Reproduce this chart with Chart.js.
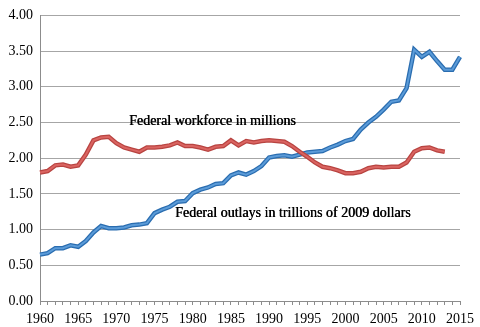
<!DOCTYPE html>
<html>
<head>
<meta charset="utf-8">
<script src="https://cdn.jsdelivr.net/npm/chart.js@4.4.1/dist/chart.umd.min.js"></script>
<style>
  html, body { margin: 0; padding: 0; background: #fff; }
  #wrap { width: 480px; height: 327px; }
</style>
</head>
<body>
<div id="wrap"><canvas id="chart"></canvas></div>
<script>
const years = [];
for (let y = 1960; y <= 2015; y++) years.push(String(y));

// Federal outlays, trillions of 2009 dollars
const outlays = [
  0.65, 0.67, 0.74, 0.74, 0.78, 0.76, 0.84, 0.96, 1.05, 1.02,
  1.02, 1.03, 1.06, 1.07, 1.09, 1.23, 1.28, 1.32, 1.39, 1.40,
  1.51, 1.56, 1.59, 1.64, 1.65, 1.76, 1.80, 1.77, 1.82, 1.89,
  2.01, 2.03, 2.04, 2.02, 2.05, 2.08, 2.09, 2.10, 2.15, 2.19,
  2.24, 2.27, 2.40, 2.50, 2.58, 2.68, 2.79, 2.81, 2.98, 3.52,
  3.42, 3.49, 3.36, 3.24, 3.24, 3.42
];

// Federal workforce, millions
const workforce = [
  1.80, 1.82, 1.90, 1.91, 1.88, 1.90, 2.05, 2.25, 2.29, 2.30,
  2.21, 2.15, 2.12, 2.09, 2.15, 2.15, 2.16, 2.18, 2.22, 2.17,
  2.17, 2.15, 2.12, 2.16, 2.17, 2.25, 2.18, 2.24, 2.22, 2.24,
  2.25, 2.24, 2.23, 2.17, 2.09, 2.02, 1.94, 1.88, 1.86, 1.83,
  1.79, 1.79, 1.81, 1.86, 1.88, 1.87, 1.88, 1.88, 1.94, 2.09,
  2.14, 2.15, 2.11, 2.09, null, null
];

const yTicks = [0, 0.5, 1, 1.5, 2, 2.5, 3, 3.5, 4];

const notes = [
  { text: "Federal workforce in millions", x: 129, y: 121 },
  { text: "Federal outlays in trillions of 2009 dollars", x: 175, y: 213 }
];

const SERIF = "'Liberation Serif', 'DejaVu Serif', serif";

const noteLabels = {
  id: "noteLabels",
  afterDatasetsDraw(chart) {
    const ctx = chart.ctx;
    ctx.save();
    ctx.font = "14px " + SERIF;
    ctx.fillStyle = "#000";
    ctx.textBaseline = "middle";
    notes.forEach(n => {
      ctx.fillText(n.text, n.x, n.y);
      ctx.fillText(n.text, n.x + 0.4, n.y); // slightly heavier, like the original
    });
    ctx.restore();
  }
};

const line = (data, color, width) => ({
  data,
  borderColor: color,
  borderWidth: width,
  pointRadius: 0,
  tension: 0,
  fill: false,
  spanGaps: false
});

new Chart(document.getElementById("chart"), {
  type: "line",
  data: {
    labels: years,
    datasets: [
      line(workforce, "#DA6461", 2),
      line(workforce, "#B84441", 4.5),
      line(outlays, "#5B9BD8", 2),
      line(outlays, "#2A6DB0", 4.5)
    ]
  },
  options: {
    responsive: true,
    maintainAspectRatio: false,
    animation: false,
    layout: { padding: { left: 0, right: 16, top: 7, bottom: 0 } },
    plugins: { legend: { display: false }, tooltip: { enabled: false } },
    scales: {
      x: {
        offset: false,
        afterFit: s => { s.height = 26; },
        grid: {
          drawOnChartArea: false,
          drawTicks: true,
          tickLength: 4,
          color: "#8c8c8c"
        },
        border: { color: "#8c8c8c" },
        ticks: {
          autoSkip: false,
          maxRotation: 0,
          padding: 6,
          color: "#000",
          font: { family: SERIF, size: 14 },
          callback: function (v, i) {
            const y = Number(years[i]);
            return y % 5 === 0 ? years[i] : "";
          }
        }
      },
      y: {
        min: 0,
        max: 4,
        afterFit: s => { s.width = 40; },
        afterBuildTicks: s => { s.ticks = yTicks.map(v => ({ value: v })); },
        grid: { color: "#a6a6a6", tickLength: 0 },
        border: { color: "#8c8c8c" },
        ticks: {
          padding: 7,
          color: "#000",
          font: { family: SERIF, size: 14 },
          callback: v => v.toFixed(2)
        }
      }
    }
  },
  plugins: [noteLabels]
});
</script>
</body>
</html>
